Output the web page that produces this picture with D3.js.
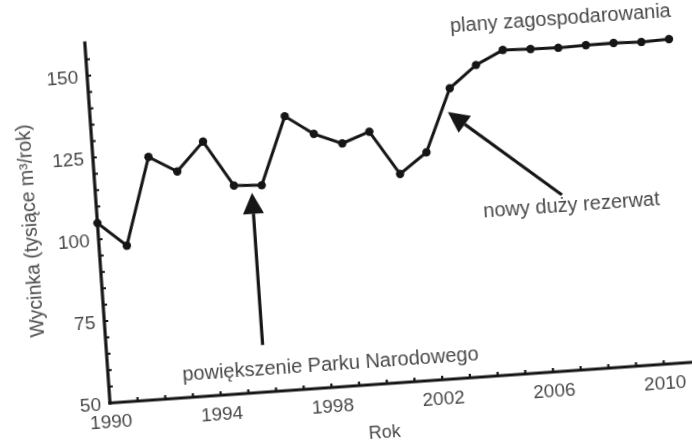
<!DOCTYPE html>
<html>
<head>
<meta charset="utf-8">
<script src="https://cdn.jsdelivr.net/npm/d3@7/dist/d3.min.js"></script>
<style>
  html, body { margin: 0; padding: 0; background: #fff; }
  svg { display: block; }
  text { font-family: "Liberation Sans", Arial, sans-serif; fill: #4a4a4a; }
</style>
</head>
<body>
<svg id="chart" width="692" height="443"></svg>
<script>
// ---- data ----
const years = [1990, 1991, 1992, 1993, 1994, 1995, 1996, 1997, 1998, 1999, 2000,
               2001, 2002, 2003, 2004, 2005, 2006, 2007, 2008, 2009, 2010, 2011];
const harvest = [105, 97.5, 124, 119, 127.5, 113.5, 113, 133.5, 127.5, 124, 127,
                 113.5, 119.5, 138.5, 145, 149, 148.7, 148.5, 148.7, 148.8, 148.5, 148.8];
const xTickLabels = [1990, 1994, 1998, 2002, 2006, 2010];
const yTickLabels = [50, 75, 100, 125, 150];
const annotationTexts = ["powiększenie Parku Narodowego", "nowy duży rezerwat", "plany zagospodarowania"];
const xTitle = "Rok";
const yTitle = "Wycinka (tysiące m³/rok)";

// ---- layout ----
const svg = d3.select("#chart");
const defs = svg.append("defs");
defs.append("filter").attr("id", "soft")
  .append("feGaussianBlur").attr("stdDeviation", 0.55);

const g = svg.append("g")
  .attr("transform", "translate(110,403) rotate(-4)")
  .attr("filter", "url(#soft)");

const x = d3.scaleLinear().domain([1990, 2011]).range([0, 583]);
const y = d3.scaleLinear().domain([50, 160]).range([0, -360.8]);

const ink = "#141414";

// axes lines
g.append("line").attr("x1", 0).attr("y1", 0).attr("x2", x(2011)).attr("y2", 0)
  .attr("stroke", ink).attr("stroke-width", 3.2).attr("stroke-linecap", "square");
g.append("line").attr("x1", 0).attr("y1", 0).attr("x2", 0).attr("y2", y(160))
  .attr("stroke", ink).attr("stroke-width", 3.2).attr("stroke-linecap", "square");

// minor ticks
const xMinor = d3.range(1991, 2011, 1);
g.selectAll(".xt").data(xMinor).join("line")
  .attr("x1", d => x(d)).attr("x2", d => x(d)).attr("y1", -4).attr("y2", 0)
  .attr("stroke", ink).attr("stroke-width", 2.2);
const yMinor = d3.range(55, 160, 5);
g.selectAll(".yt").data(yMinor).join("line")
  .attr("y1", d => y(d)).attr("y2", d => y(d)).attr("x1", -1).attr("x2", 4)
  .attr("stroke", ink).attr("stroke-width", 2);

// tick labels
g.selectAll(".xl").data(xTickLabels).join("text")
  .attr("x", d => x(d)).attr("y", 25)
  .attr("text-anchor", "middle").attr("font-size", 19).text(d => d);
g.selectAll(".yl").data(yTickLabels).join("text")
  .attr("x", -9).attr("y", d => y(d)).attr("dy", "0.36em")
  .attr("text-anchor", "end").attr("font-size", 19).text(d => d);

// titles
g.append("text").attr("x", x(1999.8)).attr("y", 54)
  .attr("text-anchor", "middle").attr("font-size", 18).text(xTitle);
g.append("text")
  .attr("transform", `translate(-61,${y(104)}) rotate(-90)`)
  .attr("text-anchor", "middle").attr("font-size", 19.5).text(yTitle);

// data line
const pts = years.map((yr, i) => [yr, harvest[i]]);
g.append("path").datum(pts)
  .attr("d", d3.line().x(d => x(d[0])).y(d => y(d[1])))
  .attr("fill", "none").attr("stroke", ink).attr("stroke-width", 3)
  .attr("stroke-linejoin", "round");
g.selectAll(".pt").data(pts).join("circle")
  .attr("cx", d => x(d[0])).attr("cy", d => y(d[1])).attr("r", 4.2)
  .attr("fill", ink);

// annotations
const annotations = [
  { text: annotationTexts[0], tx: 1998.02, ty: 55.3, from: [1995.63, 64.4], to: [1995.63, 110.9] },
  { text: annotationTexts[1], tx: 2007.08, ty: 98.4, from: [2006.76, 103.7], to: [2002.87, 131.3] },
  { text: annotationTexts[2], tx: 2007.15, ty: 155.4 }
];
annotations.forEach(a => {
  g.append("text").attr("x", x(a.tx)).attr("y", y(a.ty))
    .attr("text-anchor", "middle").attr("font-size", 20).text(a.text);
  if (a.from) {
    const x1 = x(a.from[0]), y1 = y(a.from[1]);
    const x2 = x(a.to[0]), y2 = y(a.to[1]);
    const ang = Math.atan2(y2 - y1, x2 - x1);
    const L = 21, W = 10.5;
    const bx = x2 - L * Math.cos(ang), by = y2 - L * Math.sin(ang);
    g.append("line").attr("x1", x1).attr("y1", y1).attr("x2", bx).attr("y2", by)
      .attr("stroke", ink).attr("stroke-width", 3.2);
    const px = -Math.sin(ang), py = Math.cos(ang);
    g.append("path")
      .attr("d", `M${x2},${y2}L${bx + W * px},${by + W * py}L${bx - W * px},${by - W * py}Z`)
      .attr("fill", ink);
  }
});
</script>
</body>
</html>
